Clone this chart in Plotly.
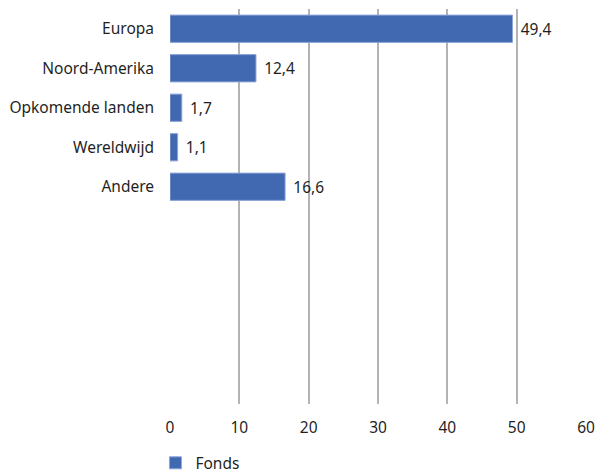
import plotly.graph_objects as go

# Regional allocation of the fund (%)
categories = ["Europa", "Noord-Amerika", "Opkomende landen", "Wereldwijd", "Andere"]
values = [49.4, 12.4, 1.7, 1.1, 16.6]
series_name = "Fonds"
x_ticks = [0, 10, 20, 30, 40, 50, 60]

# Dutch decimal comma, with a small lead space so labels sit clear of the bar ends
labels = ["\u2004" + f"{v:.1f}".replace(".", ",") for v in values]

font_family = "Noto Sans, Open Sans, sans-serif"
font_size = 15.5
text_color = "#1f1f1f"

fig = go.Figure(
    go.Bar(
        x=values,
        y=categories,
        orientation="h",
        name=series_name,
        marker=dict(color="#4169b1", line=dict(color="#8ea6d6", width=1)),
        text=labels,
        textposition="outside",
        textfont=dict(size=font_size, color=text_color, family=font_family),
        cliponaxis=False,
        showlegend=True,
    )
)

fig.update_layout(
    width=598,
    height=475,
    margin=dict(l=170, r=12, t=9, b=71, autoexpand=False),
    paper_bgcolor="white",
    plot_bgcolor="white",
    font=dict(family=font_family, size=font_size, color=text_color),
    bargap=0.31,
    xaxis=dict(
        range=[0, 60],
        tickvals=x_ticks,
        showgrid=True,
        gridcolor="#b3b3b3",
        gridwidth=1.5,
        zeroline=False,
        showline=False,
        ticks="",
        ticklabelstandoff=12,
    ),
    yaxis=dict(
        type="category",
        categoryorder="array",
        categoryarray=categories,
        range=[9.5, -0.5],
        showgrid=False,
        zeroline=False,
        showline=False,
        ticks="",
        ticklabelstandoff=15,
    ),
    legend=dict(
        orientation="h",
        x=-0.035,
        xanchor="left",
        y=-0.15,
        yanchor="middle",
        font=dict(size=font_size, color=text_color),
    ),
)

fig.write_html("out.html")
